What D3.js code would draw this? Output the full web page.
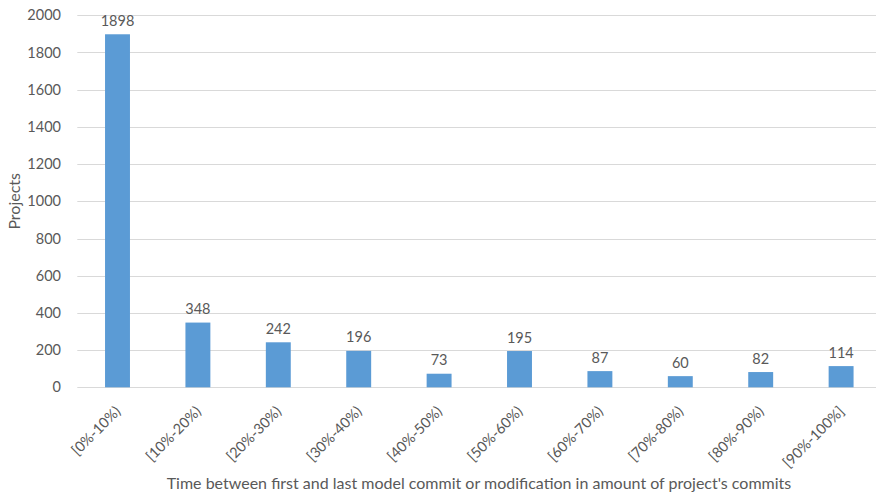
<!DOCTYPE html>
<html>
<head>
<meta charset="utf-8">
<script src="https://cdn.jsdelivr.net/npm/d3@7"></script>
<style>
  html, body { margin: 0; padding: 0; background: #fff; }
  svg text { font-family: Lato, "Open Sans", sans-serif; fill: #595959; }
</style>
</head>
<body>
<svg id="chart" width="876" height="495"></svg>
<script>
// Distribution of projects by the time between first and last model commit
const categories = ["[0%-10%)", "[10%-20%)", "[20%-30%)", "[30%-40%)", "[40%-50%)",
                    "[50%-60%)", "[60%-70%)", "[70%-80%)", "[80%-90%)", "[90%-100%]"];
const projects = [1898, 348, 242, 196, 73, 195, 87, 60, 82, 114];
const yTicks = [0, 200, 400, 600, 800, 1000, 1200, 1400, 1600, 1800, 2000];
const yTitle = "Projects";
const xTitle = "Time between first and last model commit or modification in amount of project's commits";

const svg = d3.select("#chart");
const W = 876, H = 495;
const plotLeft = 77.3, plotRight = 881.3, plotTop = 15.3, plotBottom = 387.3;
const numSize = 14.5, textSize = 16;

const x = d3.scaleBand().domain(categories).range([plotLeft, plotRight]).paddingInner(0.69).paddingOuter(0.345);
const y = d3.scaleLinear().domain([0, 2000]).range([plotBottom, plotTop]);

// horizontal gridlines
svg.append("g")
  .selectAll("line")
  .data(yTicks)
  .join("line")
  .attr("x1", plotLeft)
  .attr("x2", W)
  .attr("y1", d => Math.round(y(d)) + 0.5)
  .attr("y2", d => Math.round(y(d)) + 0.5)
  .attr("stroke", "#d9d9d9")
  .attr("stroke-width", 1);

// y axis labels
const yAxis = d3.axisLeft(y).tickValues(yTicks).tickFormat(d3.format("d")).tickSize(0).tickPadding(0);
svg.append("g")
  .attr("transform", `translate(61,0)`)
  .call(yAxis)
  .call(g => g.select(".domain").remove())
  .call(g => g.selectAll("text")
    .attr("font-size", numSize)
    .style("font-family", "Lato, sans-serif")
    .attr("fill", "#595959"));

// bars
svg.append("g")
  .selectAll("rect")
  .data(projects)
  .join("rect")
  .attr("x", (d, i) => x(categories[i]))
  .attr("width", x.bandwidth())
  .attr("y", d => y(d))
  .attr("height", d => y(0) - y(d))
  .attr("fill", "#5b9bd5");

// value labels
svg.append("g")
  .selectAll("text")
  .data(projects)
  .join("text")
  .attr("x", (d, i) => x(categories[i]) + x.bandwidth() / 2)
  .attr("y", d => y(d) - 8.5)
  .attr("text-anchor", "middle")
  .attr("font-size", numSize)
  .text(d => d);

// x axis category labels, rotated
const xAxis = d3.axisBottom(x).tickSize(0).tickPadding(0);
svg.append("g")
  .attr("transform", `translate(0,${plotBottom})`)
  .call(xAxis)
  .call(g => g.select(".domain").remove())
  .call(g => g.selectAll("text")
    .attr("font-size", numSize)
    .style("font-family", "Lato, sans-serif")
    .attr("fill", "#595959")
    .attr("text-anchor", "end")
    .attr("dy", null)
    .attr("y", 0)
    .attr("transform", "translate(4,25) rotate(-45)"));

// axis titles
svg.append("text")
  .attr("transform", `translate(19.5,${(plotTop + plotBottom) / 2}) rotate(-90)`)
  .attr("text-anchor", "middle")
  .attr("font-size", textSize)
  .text(yTitle);

svg.append("text")
  .attr("x", 479)
  .attr("y", 489)
  .attr("text-anchor", "middle")
  .attr("font-size", textSize)
  .text(xTitle);
</script>
</body>
</html>
